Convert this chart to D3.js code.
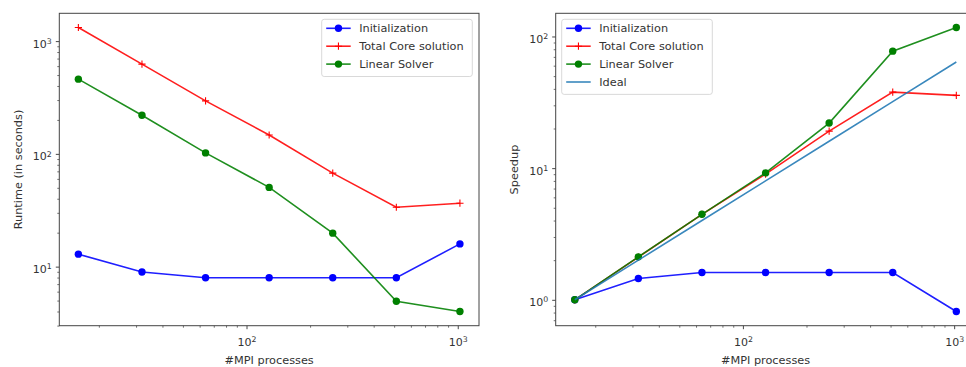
<!DOCTYPE html>
<html><head><meta charset="utf-8">
<script src="https://cdn.jsdelivr.net/npm/d3@7"></script>
<style>body{margin:0;background:#fff;overflow:hidden} text{font-family:"DejaVu Sans",sans-serif}</style>
</head><body><svg id="c" width="966" height="367"></svg>
<script>
const processes=[16,32,64,128,256,512,1024];
const runtimeInit=[12.9,8.97,7.98,7.98,7.98,7.98,15.9];
const runtimeTotal=[1320,625,295,147,67.5,33.6,36.5];
const runtimeLinear=[460,220,102,50.4,19.8,4.93,4.0];
const speedupInit=[1,1.45,1.61,1.61,1.61,1.61,0.815];
const speedupTotal=[1,2.11,4.45,9.0,19.1,37.8,35.7];
const speedupLinear=[1,2.12,4.46,9.2,22.0,77.4,117];
const speedupIdeal=[1,2,4,8,16,32,64];
const xMajor=[100,1000];
const xLabel="#MPI processes";
const leftYLabel="Runtime (in seconds)";
const rightYLabel="Speedup";
const leftMajorY=[10,100,1000];
const rightMajorY=[1,10,100];

const svg=d3.select("#c");
const TXT="#333";
const FS=11.3;

function pad(vals){
  const lo=Math.log10(d3.min(vals)), hi=Math.log10(d3.max(vals)), m=(hi-lo)*0.05;
  return [Math.pow(10,lo-m),Math.pow(10,hi+m)];
}
function minors(dom){
  const out=[];
  for(let e=Math.floor(Math.log10(dom[0]))-1;e<=Math.ceil(Math.log10(dom[1]));e++){
    for(let k=2;k<=9;k++){const v=k*Math.pow(10,e); if(v>=dom[0]&&v<=dom[1]) out.push(v);}
  }
  return out;
}
function supLabels(sel){
  sel.selectAll(".tick text").each(function(d){
    const t=d3.select(this); const e=Math.round(Math.log10(d));
    t.text(null).attr("fill",TXT).style("font-size","11px");
    t.append("tspan").text("10");
    t.append("tspan").text(e).attr("dy","-0.5em").style("font-size","7.8px");
  });
}

function panel(opts){
  const {x0,x1,y0,y1,series,yLabel,yMajor,legend}=opts;
  const allY=[].concat(...series.map(s=>s.values));
  const xDom=pad(processes), yDom=pad(allY);
  const x=d3.scaleLog().domain(xDom).range([x0,x1]);
  const y=d3.scaleLog().domain(yDom).range([y1,y0]);
  const g=svg.append("g");
  g.append("g").attr("transform",`translate(0,${y1})`)
    .call(d3.axisBottom(x).tickValues(minors(xDom)).tickSize(2).tickFormat(""))
    .call(a=>{a.select(".domain").remove();a.selectAll("line").attr("stroke","#333").attr("stroke-width",0.7);});
  g.append("g").attr("transform",`translate(${x0},0)`)
    .call(d3.axisLeft(y).tickValues(minors(yDom)).tickSize(2).tickFormat(""))
    .call(a=>{a.select(".domain").remove();a.selectAll("line").attr("stroke","#333").attr("stroke-width",0.7);});
  const xa=g.append("g").attr("transform",`translate(0,${y1})`)
    .call(d3.axisBottom(x).tickValues(xMajor).tickSize(3.5).tickPadding(4))
    .call(a=>{a.select(".domain").remove();a.selectAll("line").attr("stroke","#333").attr("stroke-width",0.9);});
  supLabels(xa);
  xa.selectAll(".tick text").attr("dy","1.15em");
  const ya=g.append("g").attr("transform",`translate(${x0},0)`)
    .call(d3.axisLeft(y).tickValues(yMajor).tickSize(3.5).tickPadding(4))
    .call(a=>{a.select(".domain").remove();a.selectAll("line").attr("stroke","#333").attr("stroke-width",0.9);});
  supLabels(ya);
  ya.selectAll(".tick text").attr("dy","0.55em");
  const cid="clip"+Math.round(x0);
  svg.append("clipPath").attr("id",cid).append("rect").attr("x",x0).attr("y",y0).attr("width",x1-x0).attr("height",y1-y0);
  const plot=g.append("g").attr("clip-path",`url(#${cid})`);
  const line=d3.line().x((d,i)=>x(processes[i])).y(d=>y(d));
  series.forEach(s=>{
    plot.append("path").datum(s.values).attr("d",line).attr("fill","none").attr("stroke",s.color).attr("stroke-width",1.6).attr("stroke-opacity",0.88);
    if(s.marker==="o"){
      plot.selectAll(null).data(s.values).join("circle").attr("cx",(d,i)=>x(processes[i])).attr("cy",d=>y(d)).attr("r",3.7).attr("fill",s.color);
    } else if(s.marker==="+"){
      plot.selectAll(null).data(s.values).join("path")
        .attr("d",(d,i)=>{const cx=x(processes[i]),cy=y(d);return `M${cx-3.6},${cy}H${cx+3.6}M${cx},${cy-3.6}V${cy+3.6}`;})
        .attr("stroke",s.color).attr("stroke-width",1.1);
    }
  });
  g.append("rect").attr("x",x0).attr("y",y0).attr("width",x1-x0).attr("height",y1-y0).attr("fill","none").attr("stroke","#444").attr("stroke-width",1);
  g.append("text").attr("x",x(Math.sqrt(xDom[0]*xDom[1]))).attr("y",364).attr("text-anchor","middle").attr("fill",TXT).style("font-size",FS+"px").text(xLabel);
  g.append("text").attr("transform",`translate(${opts.yLabelX},${(y0+y1)/2}) rotate(-90)`).attr("text-anchor","middle").attr("fill",TXT).style("font-size",FS+"px").text(yLabel);
  const L=legend;
  const lg=g.append("g");
  lg.append("rect").attr("x",L.x).attr("y",L.y).attr("width",L.w).attr("height",series.length*17.9+3.5).attr("rx",2.5)
    .attr("fill","#fff").attr("fill-opacity",0.8).attr("stroke","#d5d5d5").attr("stroke-width",0.9);
  series.forEach((s,i)=>{
    const cy=L.y+9+i*17.9, hx=L.x+4.5;
    lg.append("line").attr("x1",hx).attr("x2",hx+24.5).attr("y1",cy).attr("y2",cy).attr("stroke",s.color).attr("stroke-width",1.6).attr("stroke-opacity",0.88);
    if(s.marker==="o") lg.append("circle").attr("cx",hx+12.25).attr("cy",cy).attr("r",3.7).attr("fill",s.color);
    if(s.marker==="+") lg.append("path").attr("d",`M${hx+8.65},${cy}H${hx+15.85}M${hx+12.25},${cy-3.6}V${cy+3.6}`).attr("stroke",s.color).attr("stroke-width",1.1);
    lg.append("text").attr("x",hx+33).attr("y",cy).attr("dy","0.35em").attr("fill",TXT).style("font-size",FS+"px").text(s.name);
  });
}

panel({x0:59.3,x1:479,y0:13.3,y1:325.7,yLabel:leftYLabel,yMajor:leftMajorY,yLabelX:22,
  legend:{x:321.7,y:19.3,w:150.6},
  series:[
    {name:"Initialization",values:runtimeInit,color:"#0000ff",marker:"o"},
    {name:"Total Core solution",values:runtimeTotal,color:"#ff0000",marker:"+"},
    {name:"Linear Solver",values:runtimeLinear,color:"#008000",marker:"o"}
  ]});
panel({x0:555.7,x1:975.4,y0:13.3,y1:325.7,yLabel:rightYLabel,yMajor:rightMajorY,yLabelX:517.5,
  legend:{x:561.7,y:19.3,w:150.6},
  series:[
    {name:"Initialization",values:speedupInit,color:"#0000ff",marker:"o"},
    {name:"Total Core solution",values:speedupTotal,color:"#ff0000",marker:"+"},
    {name:"Linear Solver",values:speedupLinear,color:"#008000",marker:"o"},
    {name:"Ideal",values:speedupIdeal,color:"#1f77b4",marker:null}
  ]});
</script></body></html>
